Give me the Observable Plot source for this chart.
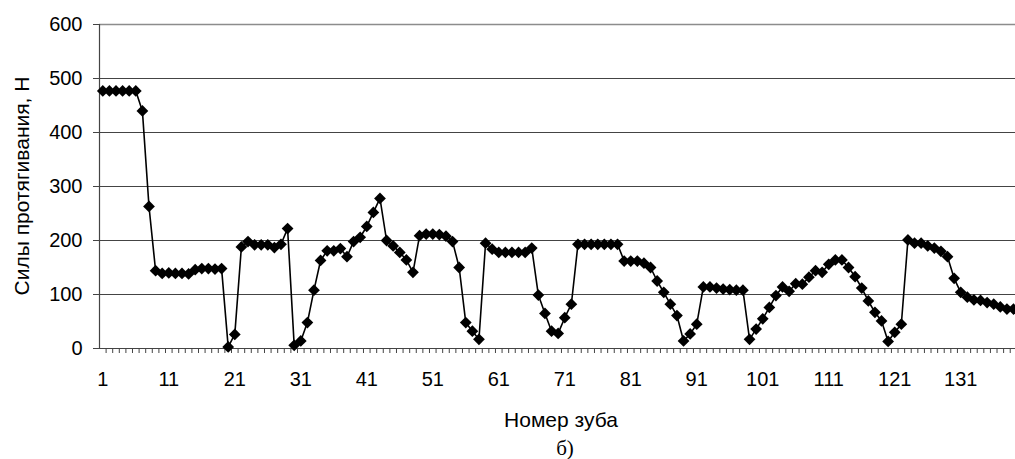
<!DOCTYPE html>
<html><head><meta charset="utf-8">
<script src="https://cdn.jsdelivr.net/npm/d3@7"></script>
<script src="https://cdn.jsdelivr.net/npm/@observablehq/plot@0.6"></script>
<style>html,body{margin:0;padding:0;background:#fff}</style>
</head><body><div id="chart"></div>
<script>
// Силы протягивания (Н) по номеру зуба 1..139
const forces = [
  477, 477, 477, 477, 477, 477, 440, 263, 144, 139,
  140, 139, 139, 138, 146, 148, 148, 147, 148, 3,
  26, 188, 198, 192, 192, 192, 187, 193, 222, 6,
  14, 48, 108, 163, 181, 181, 185, 170, 198, 206,
  226, 252, 278, 200, 190, 178, 164, 141, 209, 212,
  212, 211, 208, 198, 150, 48, 32, 17, 195, 184,
  178, 178, 178, 178, 178, 186, 99, 65, 32, 28,
  57, 82, 193, 193, 193, 193, 193, 193, 193, 162,
  162, 162, 158, 150, 125, 104, 82, 61, 14, 27,
  45, 114, 114, 112, 110, 109, 108, 108, 17, 36,
  55, 76, 98, 114, 106, 120, 119, 132, 144, 141,
  156, 164, 164, 150, 133, 112, 88, 67, 51, 13,
  30, 45, 201, 195, 195, 190, 186, 180, 170, 130,
  104, 95, 90, 89, 85, 82, 77, 73, 73
];
const toothNumbers = forces.map((_, i) => i + 1);
const xTickLabels = [1, 11, 21, 31, 41, 51, 61, 71, 81, 91, 101, 111, 121, 131];
const yTicks = [0, 100, 200, 300, 400, 500, 600];
const yTitle = "Силы протягивания, Н";
const xTitle = "Номер зуба";
const caption = "б)";

const data = forces.map((f, i) => ({tooth: toothNumbers[i], force: f}));
const boundaries = toothNumbers.map(t => t + 0.5);

const chart = Plot.plot({
  width: 1015, height: 459,
  marginLeft: 99, marginRight: 0, marginTop: 24, marginBottom: 111,
  style: {fontFamily: "'Liberation Sans', Arial, sans-serif", fontSize: "20px", color: "#000", background: "#fff", overflow: "visible"},
  x: {domain: [0.5, 139.3]},
  y: {domain: [0, 600]},
  marks: [
    Plot.ruleY(yTicks.filter(d => d > 0 && d < 600), {stroke: "#444", strokeWidth: 1}),
    Plot.ruleY([600], {stroke: "#8c8c8c", strokeWidth: 1.6}),
    Plot.ruleX([0.5], {stroke: "#444", strokeWidth: 1.2}),
    Plot.ruleY([0], {stroke: "#444", strokeWidth: 1.2}),
    Plot.axisY({ticks: yTicks, tickSize: 6, tickPadding: 11, label: null, stroke: "#444"}),
    Plot.axisX({ticks: boundaries, tickSize: 5, tickFormat: () => "", label: null, stroke: "#444"}),
    Plot.axisX({ticks: xTickLabels, tickSize: 0, tickPadding: 23, label: null}),
    Plot.line(data, {x: "tooth", y: "force", stroke: "#000", strokeWidth: 1.6}),
    Plot.dot(data, {x: "tooth", y: "force", symbol: "diamond2", r: 5.3, fill: "#000", stroke: "none"})
  ]
});

const svg = d3.select(chart);
svg.append("text")
  .attr("transform", "translate(29,186) rotate(-90)")
  .attr("text-anchor", "middle")
  .attr("font-size", "21px")
  .attr("fill", "#000")
  .text(yTitle);
svg.append("text")
  .attr("x", 561).attr("y", 427)
  .attr("text-anchor", "middle")
  .attr("font-size", "21px")
  .attr("fill", "#000")
  .text(xTitle);
svg.append("text")
  .attr("x", 565).attr("y", 455)
  .attr("text-anchor", "middle")
  .attr("font-family", "'Liberation Serif', 'Times New Roman', serif")
  .attr("font-size", "21px")
  .attr("fill", "#000")
  .text(caption);

document.getElementById("chart").appendChild(chart);
</script>
</body></html>
